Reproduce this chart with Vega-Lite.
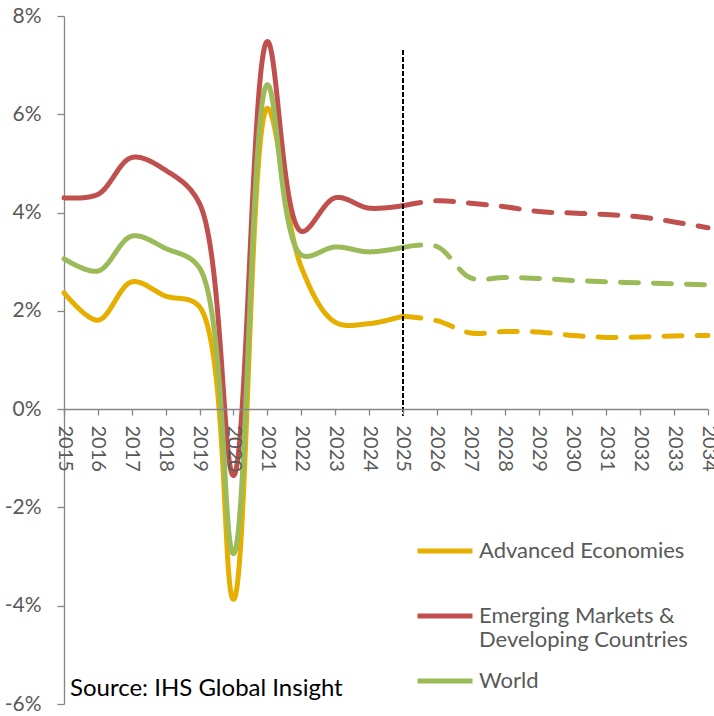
{
  "$schema": "https://vega.github.io/schema/vega-lite/v6.json",
  "width": 644,
  "height": 688,
  "autosize": {"type": "none"},
  "padding": {"left": 64, "top": 16, "right": 6, "bottom": 12},
  "background": "white",
  "config": {
    "view": {"stroke": null},
    "font": "Lato",
    "axis": {"domainColor": "#868686", "tickColor": "#868686", "labelColor": "#595959", "labelFont": "Lato", "labelFontSize": 20, "grid": false, "title": null, "domainWidth": 1.3, "tickWidth": 1.3}
  },
  "title": {"text": "Source: IHS Global Insight", "orient": "bottom", "anchor": "start", "frame": "group", "offset": -39, "dx": 6, "fontSize": 24, "fontWeight": "normal", "color": "#000000", "font": "Lato"},
  "data": {"values": [
    {"series": "Advanced Economies", "period": "actual", "year": 2015, "growth": 2.37},
    {"series": "Advanced Economies", "period": "actual", "year": 2016, "growth": 1.81},
    {"series": "Advanced Economies", "period": "actual", "year": 2017, "growth": 2.59},
    {"series": "Advanced Economies", "period": "actual", "year": 2018, "growth": 2.3},
    {"series": "Advanced Economies", "period": "actual", "year": 2019, "growth": 2.08},
    {"series": "Advanced Economies", "period": "actual", "year": 2020, "growth": -3.87},
    {"series": "Advanced Economies", "period": "actual", "year": 2021, "growth": 6.12},
    {"series": "Advanced Economies", "period": "actual", "year": 2022, "growth": 2.89},
    {"series": "Advanced Economies", "period": "actual", "year": 2023, "growth": 1.77},
    {"series": "Advanced Economies", "period": "actual", "year": 2024, "growth": 1.74},
    {"series": "Advanced Economies", "period": "actual", "year": 2025, "growth": 1.89},
    {"series": "Advanced Economies", "period": "forecast", "year": 2025, "growth": 1.89},
    {"series": "Advanced Economies", "period": "forecast", "year": 2026, "growth": 1.8},
    {"series": "Advanced Economies", "period": "forecast", "year": 2027, "growth": 1.55},
    {"series": "Advanced Economies", "period": "forecast", "year": 2028, "growth": 1.58},
    {"series": "Advanced Economies", "period": "forecast", "year": 2029, "growth": 1.57},
    {"series": "Advanced Economies", "period": "forecast", "year": 2030, "growth": 1.5},
    {"series": "Advanced Economies", "period": "forecast", "year": 2031, "growth": 1.46},
    {"series": "Advanced Economies", "period": "forecast", "year": 2032, "growth": 1.47},
    {"series": "Advanced Economies", "period": "forecast", "year": 2033, "growth": 1.49},
    {"series": "Advanced Economies", "period": "forecast", "year": 2034, "growth": 1.5},
    {"series": "Emerging Markets & Developing Countries", "period": "actual", "year": 2015, "growth": 4.3},
    {"series": "Emerging Markets & Developing Countries", "period": "actual", "year": 2016, "growth": 4.37},
    {"series": "Emerging Markets & Developing Countries", "period": "actual", "year": 2017, "growth": 5.12},
    {"series": "Emerging Markets & Developing Countries", "period": "actual", "year": 2018, "growth": 4.86},
    {"series": "Emerging Markets & Developing Countries", "period": "actual", "year": 2019, "growth": 4.18},
    {"series": "Emerging Markets & Developing Countries", "period": "actual", "year": 2020, "growth": -1.35},
    {"series": "Emerging Markets & Developing Countries", "period": "actual", "year": 2021, "growth": 7.48},
    {"series": "Emerging Markets & Developing Countries", "period": "actual", "year": 2022, "growth": 3.62},
    {"series": "Emerging Markets & Developing Countries", "period": "actual", "year": 2023, "growth": 4.3},
    {"series": "Emerging Markets & Developing Countries", "period": "actual", "year": 2024, "growth": 4.09},
    {"series": "Emerging Markets & Developing Countries", "period": "actual", "year": 2025, "growth": 4.14},
    {"series": "Emerging Markets & Developing Countries", "period": "forecast", "year": 2025, "growth": 4.14},
    {"series": "Emerging Markets & Developing Countries", "period": "forecast", "year": 2026, "growth": 4.24},
    {"series": "Emerging Markets & Developing Countries", "period": "forecast", "year": 2027, "growth": 4.19},
    {"series": "Emerging Markets & Developing Countries", "period": "forecast", "year": 2028, "growth": 4.12},
    {"series": "Emerging Markets & Developing Countries", "period": "forecast", "year": 2029, "growth": 4.02},
    {"series": "Emerging Markets & Developing Countries", "period": "forecast", "year": 2030, "growth": 3.99},
    {"series": "Emerging Markets & Developing Countries", "period": "forecast", "year": 2031, "growth": 3.96},
    {"series": "Emerging Markets & Developing Countries", "period": "forecast", "year": 2032, "growth": 3.91},
    {"series": "Emerging Markets & Developing Countries", "period": "forecast", "year": 2033, "growth": 3.81},
    {"series": "Emerging Markets & Developing Countries", "period": "forecast", "year": 2034, "growth": 3.69},
    {"series": "World", "period": "actual", "year": 2015, "growth": 3.06},
    {"series": "World", "period": "actual", "year": 2016, "growth": 2.81},
    {"series": "World", "period": "actual", "year": 2017, "growth": 3.52},
    {"series": "World", "period": "actual", "year": 2018, "growth": 3.27},
    {"series": "World", "period": "actual", "year": 2019, "growth": 2.87},
    {"series": "World", "period": "actual", "year": 2020, "growth": -2.94},
    {"series": "World", "period": "actual", "year": 2021, "growth": 6.6},
    {"series": "World", "period": "actual", "year": 2022, "growth": 3.14},
    {"series": "World", "period": "actual", "year": 2023, "growth": 3.3},
    {"series": "World", "period": "actual", "year": 2024, "growth": 3.2},
    {"series": "World", "period": "actual", "year": 2025, "growth": 3.29},
    {"series": "World", "period": "forecast", "year": 2025, "growth": 3.29},
    {"series": "World", "period": "forecast", "year": 2026, "growth": 3.31},
    {"series": "World", "period": "forecast", "year": 2027, "growth": 2.67},
    {"series": "World", "period": "forecast", "year": 2028, "growth": 2.68},
    {"series": "World", "period": "forecast", "year": 2029, "growth": 2.66},
    {"series": "World", "period": "forecast", "year": 2030, "growth": 2.62},
    {"series": "World", "period": "forecast", "year": 2031, "growth": 2.59},
    {"series": "World", "period": "forecast", "year": 2032, "growth": 2.57},
    {"series": "World", "period": "forecast", "year": 2033, "growth": 2.55},
    {"series": "World", "period": "forecast", "year": 2034, "growth": 2.53}
  ]},
  "layer": [
    {
      "mark": {"type": "line", "interpolate": "catmull-rom", "strokeWidth": 5, "strokeCap": "round", "strokeJoin": "round"},
      "encoding": {
        "x": {"field": "year", "type": "quantitative",
              "scale": {"domain": [2015, 2034], "nice": false, "zero": false},
              "axis": {"values": [2015, 2016, 2017, 2018, 2019, 2020, 2021, 2022, 2023, 2024, 2025, 2026, 2027, 2028, 2029, 2030, 2031, 2032, 2033, 2034],
                       "tickCount": 40, "format": "d", "labelAngle": 90, "labelAlign": "left", "labelBaseline": "middle", "labelPadding": 10, "tickSize": 6, "offset": -295, "zindex": 1, "labelFlush": false, "labelOverlap": false}},
        "y": {"field": "growth", "type": "quantitative",
              "scale": {"domain": [-6, 8], "nice": false},
              "axis": {"values": [-6, -4, -2, 0, 2, 4, 6, 8], "labelExpr": "datum.value + '%'", "tickSize": 7, "labelPadding": 16, "labelFontSize": 21}},
        "color": {"field": "series", "type": "nominal",
                  "scale": {"domain": ["Advanced Economies", "Emerging Markets & Developing Countries", "World"], "range": ["#E6AF00", "#C0504D", "#9BBB59"]},
                  "legend": {"orient": "none", "legendX": 351, "legendY": 505, "title": null, "symbolType": "stroke", "symbolStrokeWidth": 5, "symbolSize": 3025, "labelFontSize": 22, "labelColor": "#595959", "labelFont": "Lato", "labelLimit": 400, "rowPadding": 0, "padding": 0, "labelOffset": 4,
                             "labelExpr": "datum.label == 'Emerging Markets & Developing Countries' ? ['Emerging Markets &', 'Developing Countries'] : [datum.label, '']"}},
        "strokeDash": {"field": "period", "type": "nominal",
                       "scale": {"domain": ["actual", "forecast"], "range": [[1, 0], [18, 15]]}, "legend": null}
      }
    },
    {
      "mark": {"type": "rule", "strokeDash": [4, 3], "strokeWidth": 1.8, "color": "#000000"},
      "encoding": {"x": {"datum": 2025, "type": "quantitative"}, "y": {"datum": 7.3}, "y2": {"datum": -0.13}}
    }
  ]
}
